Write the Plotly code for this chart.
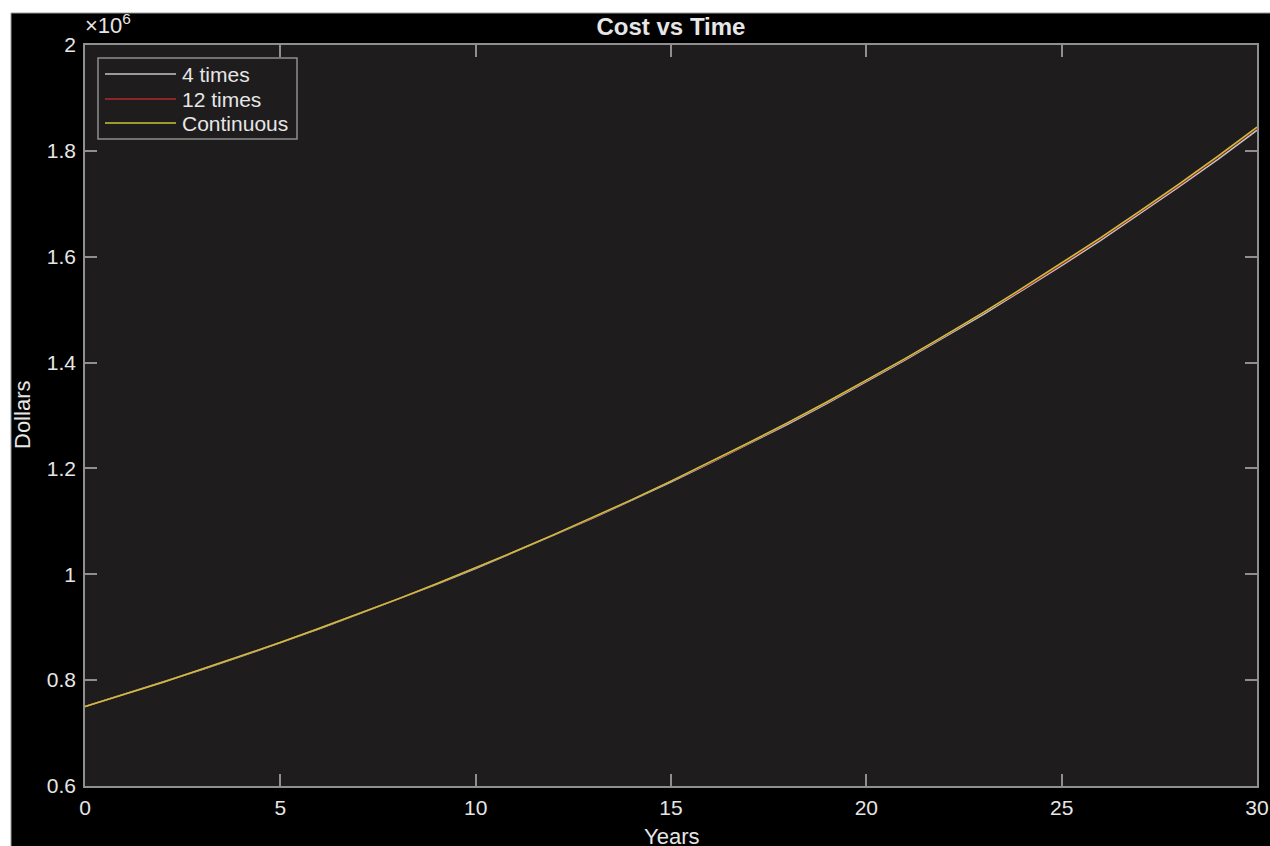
import plotly.graph_objects as go

# ---- data ----
years = list(range(0, 31))
quarterly = [750, 773, 796, 820, 845, 871, 897, 925, 953, 981, 1011, 1042, 1074, 1106, 1140,
             1174, 1210, 1247, 1284, 1323, 1364, 1405, 1448, 1491, 1537, 1583, 1631, 1681,
             1732, 1784, 1839]
monthly = [750, 773, 796, 821, 846, 871, 898, 925, 953, 982, 1012, 1043, 1075, 1107, 1141,
           1176, 1211, 1248, 1286, 1325, 1366, 1407, 1450, 1494, 1539, 1586, 1634, 1684,
           1735, 1788, 1843]
continuous = [750, 773, 796, 821, 846, 871, 898, 925, 953, 982, 1012, 1043, 1075, 1108, 1141,
              1176, 1212, 1249, 1287, 1326, 1367, 1408, 1451, 1495, 1541, 1588, 1636, 1686,
              1737, 1790, 1845]
series_names = ["4 times", "12 times", "Continuous"]
series_colors = ["#c4c4c4", "#b02a2a", "#c9c23a"]
y_tick_vals = [0.6, 0.8, 1.0, 1.2, 1.4, 1.6, 1.8, 2.0]
y_tick_text = ["0.6", "0.8", "1", "1.2", "1.4", "1.6", "1.8", "2"]
x_tick_vals = [0, 5, 10, 15, 20, 25, 30]

W, H = 1270, 846
ML, MR, MT, MB = 85, 13, 45, 60
PW, PH = W - ML - MR, H - MT - MB


def px(x):  # window pixel x -> paper
    return (x - ML) / PW


def py(y):  # window pixel y -> paper
    return (H - MB - y) / PH


FONT = "Liberation Sans, Arial, sans-serif"
TXT = "#e6e6e6"
AX = "#8f8f8f"

fig = go.Figure()
for name, vals, col in zip(series_names, [quarterly, monthly, continuous], series_colors):
    fig.add_trace(go.Scatter(
        x=years, y=[v * 1000 for v in vals], mode="lines", name=name,
        line=dict(color=col, width=1.5), showlegend=False))

axis_common = dict(
    showgrid=False, zeroline=False, showline=True, linecolor=AX, linewidth=1.5,
    ticks="inside", ticklen=12, tickcolor=AX, tickwidth=1.5, mirror="ticks",
    tickfont=dict(family=FONT, size=21, color=TXT), automargin=False,
)
fig.update_xaxes(range=[0, 30], tickvals=x_tick_vals, ticklabelstandoff=2, **axis_common)
fig.update_yaxes(range=[600000, 2000000], tickvals=[v * 1e6 for v in y_tick_vals],
                 ticktext=y_tick_text, ticklabelstandoff=3, **axis_common)

shapes = [
    # white strips at top and left of the picture
    dict(type="rect", xref="paper", yref="paper", x0=px(0), x1=px(11), y0=py(846), y1=py(0),
         fillcolor="white", line=dict(width=0), layer="above"),
    dict(type="rect", xref="paper", yref="paper", x0=px(0), x1=px(1270), y0=py(13), y1=py(0),
         fillcolor="white", line=dict(width=0), layer="above"),
    dict(type="line", xref="paper", yref="paper", x0=px(11), x1=px(1270), y0=py(13), y1=py(13),
         line=dict(color="#9a9a9a", width=1), layer="above"),
    dict(type="line", xref="paper", yref="paper", x0=px(11), x1=px(11), y0=py(846), y1=py(13),
         line=dict(color="#9a9a9a", width=1), layer="above"),
    # legend box
    dict(type="rect", xref="paper", yref="paper", x0=px(98), x1=px(297), y0=py(139), y1=py(58),
         fillcolor="#1e1c1c", line=dict(color=AX, width=1.5), layer="above"),
]
annotations = [
    dict(text="×10<sup>6</sup>", xref="paper", yref="paper", x=px(83), y=py(40),
         xanchor="left", yanchor="bottom", showarrow=False,
         font=dict(family=FONT, size=22, color=TXT)),
    dict(text="Dollars", xref="paper", yref="paper", x=px(22), y=py(415), textangle=-90,
         xanchor="center", yanchor="middle", showarrow=False,
         font=dict(family=FONT, size=22, color=TXT)),
    dict(text="Years", xref="paper", yref="paper", x=px(671), y=py(822),
         xanchor="center", yanchor="top", showarrow=False,
         font=dict(family=FONT, size=22, color=TXT)),
]
row_y = [74, 99, 123]
for name, col, ry in zip(series_names, series_colors, row_y):
    shapes.append(dict(type="line", xref="paper", yref="paper", x0=px(105), x1=px(176),
                       y0=py(ry), y1=py(ry), line=dict(color=col, width=1.5), layer="above"))
    annotations.append(dict(text=name, xref="paper", yref="paper", x=px(180), y=py(ry),
                            xanchor="left", yanchor="middle", showarrow=False,
                            font=dict(family=FONT, size=21, color=TXT)))

fig.update_layout(
    width=W, height=H, autosize=False,
    margin=dict(l=ML, r=MR, t=MT, b=MB, autoexpand=False),
    paper_bgcolor="black", plot_bgcolor="#1e1c1c",
    title=dict(text="<b>Cost vs Time</b>", x=671 / W, xanchor="center",
               y=1 - 27 / H, yanchor="middle",
               font=dict(family=FONT, size=24, color=TXT)),
    shapes=shapes, annotations=annotations, showlegend=False,
)

fig.write_html(
    "out.html",
    config={"responsive": False, "displayModeBar": False},
    post_script="document.body.style.margin='0';document.body.style.overflow='hidden';",
)
